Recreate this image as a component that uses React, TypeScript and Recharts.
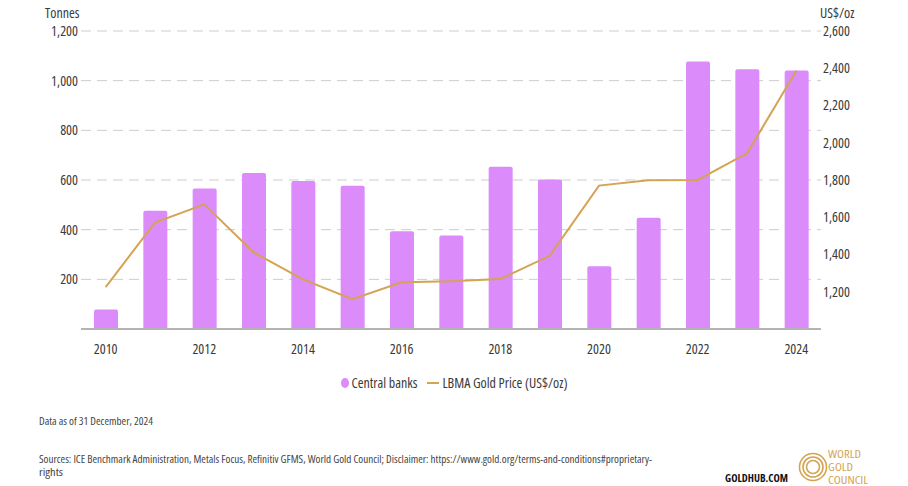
import React from 'react';
import {
    ComposedChart,
    Bar,
    Line,
    XAxis,
    YAxis,
    CartesianGrid,
    Legend
} from 'recharts';

const years = ['2010', '2011', '2012', '2013', '2014', '2015', '2016', '2017', '2018', '2019', '2020', '2021', '2022', '2023', '2024'];
const centralBanks = [79, 476, 566, 628, 596, 577, 394, 377, 653, 602, 253, 448, 1077, 1046, 1041];
const goldPrice = [1225, 1572, 1669, 1411, 1266, 1160, 1251, 1257, 1268, 1393, 1770, 1799, 1800, 1943, 2386];
const tonnesTicks = [200, 400, 600, 800, 1000, 1200];
const priceTicks = [1200, 1400, 1600, 1800, 2000, 2200, 2400, 2600];

const BAR_COLOR = '#DB8BFA';
const LINE_COLOR = '#D4A353';
const TEXT_COLOR = '#3a3a3a';
const FONT = "'Open Sans', sans-serif";

const chartData = years.map((year, i) => ({
    year,
    centralBanks: centralBanks[i],
    goldPrice: goldPrice[i]
}));

const fmt = (v: number) => v.toLocaleString('en-US');

// Legend drawn by hand so the marker shapes match (circle + short line)
const renderLegend = () => (
    <div style={{ display: 'flex', justifyContent: 'center', alignItems: 'center', fontSize: 14, color: TEXT_COLOR, fontFamily: FONT }}>
        <svg width={8} height={10} style={{ marginRight: 3 }}>
            <ellipse cx={4} cy={5} rx={4} ry={5} fill={BAR_COLOR} />
        </svg>
        <span>Central banks</span>
        <svg width={12} height={10} style={{ marginLeft: 10, marginRight: 3 }}>
            <line x1={0} y1={5} x2={12} y2={5} stroke={LINE_COLOR} strokeWidth={2} />
        </svg>
        <span>LBMA Gold Price (US$/oz)</span>
    </div>
);

const Footer: React.FC = () => (
    <svg width={908} height={486} style={{ position: 'absolute', left: 0, top: 0, pointerEvents: 'none' }}>
        <g fontFamily={FONT} fill="#444" fontSize={10}>
            <text x={39} y={425} textLength={114} lengthAdjust="spacingAndGlyphs">Data as of 31 December, 2024</text>
            <text x={39} y={463} textLength={613} lengthAdjust="spacingAndGlyphs">
                Sources: ICE Benchmark Administration, Metals Focus, Refinitiv GFMS, World Gold Council; Disclaimer: https://www.gold.org/terms-and-conditions#proprietary-
            </text>
            <text x={39} y={476} textLength={24} lengthAdjust="spacingAndGlyphs">rights</text>
        </g>
        <text x={725} y={482} fontFamily={FONT} fontWeight="bold" fontSize={11} fill="#111" textLength={63} lengthAdjust="spacingAndGlyphs">GOLDHUB.COM</text>
        <g fill="none" stroke={LINE_COLOR} strokeWidth={1.6}>
            <circle cx={813} cy={467} r={13.5} />
            <circle cx={813} cy={467} r={10} />
            <circle cx={813} cy={467} r={6.5} />
        </g>
        <g fontFamily={FONT} fontSize={10.5} fill={LINE_COLOR}>
            <text x={828} y={458} textLength={33} lengthAdjust="spacingAndGlyphs">WORLD</text>
            <text x={828} y={471} textLength={25} lengthAdjust="spacingAndGlyphs">GOLD</text>
            <text x={828} y={484} textLength={40} lengthAdjust="spacingAndGlyphs">COUNCIL</text>
        </g>
    </svg>
);

const App: React.FC = () => {
    return (
        <div style={{ position: 'absolute', left: 0, top: 0, width: 908, height: 486, background: '#fff', fontFamily: FONT, fontStretch: 'condensed' }}>
            <div style={{ position: 'absolute', left: 45, top: 3, fontSize: 14, color: TEXT_COLOR }}>Tonnes</div>
            <div style={{ position: 'absolute', left: 820, top: 3, fontSize: 14, color: TEXT_COLOR }}>US$/oz</div>
            <ComposedChart
                width={908}
                height={486}
                data={chartData}
                margin={{ top: 31, right: 0, left: 0, bottom: 127 }}
                barCategoryGap="25%"
            >
                <CartesianGrid yAxisId="left" vertical={false} stroke="#cdcdcd" strokeDasharray="10 6" />
                <XAxis
                    dataKey="year"
                    interval={1}
                    height={30}
                    tickLine={false}
                    tickSize={0}
                    tickMargin={15}
                    axisLine={{ stroke: '#b3b3b3', strokeWidth: 2 }}
                    tick={{ fill: TEXT_COLOR, fontSize: 14, fontFamily: FONT }}
                />
                <YAxis
                    yAxisId="left"
                    orientation="left"
                    width={81}
                    domain={[0, 1200]}
                    ticks={tonnesTicks}
                    axisLine={false}
                    tickLine={false}
                    tickSize={0}
                    tickMargin={3}
                    tickFormatter={fmt}
                    tick={{ fill: TEXT_COLOR, fontSize: 14, fontFamily: FONT }}
                />
                <YAxis
                    yAxisId="right"
                    orientation="right"
                    width={87}
                    domain={[1000, 2600]}
                    ticks={priceTicks}
                    axisLine={false}
                    tickLine={false}
                    tickSize={0}
                    tickMargin={2}
                    tickFormatter={fmt}
                    tick={{ fill: TEXT_COLOR, fontSize: 14, fontFamily: FONT, textAnchor: 'start' }}
                />
                <Legend
                    verticalAlign="middle"
                    align="center"
                    layout="horizontal"
                    content={renderLegend}
                    wrapperStyle={{ top: 373, left: 0, width: 908 }}
                />
                <Bar
                    yAxisId="left"
                    dataKey="centralBanks"
                    name="Central banks"
                    fill={BAR_COLOR}
                    barSize={24}
                    radius={[2, 2, 0, 0]}
                    isAnimationActive={false}
                />
                <Line
                    yAxisId="right"
                    dataKey="goldPrice"
                    name="LBMA Gold Price (US$/oz)"
                    type="linear"
                    stroke={LINE_COLOR}
                    strokeWidth={2}
                    dot={false}
                    activeDot={false}
                    isAnimationActive={false}
                />
            </ComposedChart>
            <Footer />
        </div>
    );
};

export default App;
